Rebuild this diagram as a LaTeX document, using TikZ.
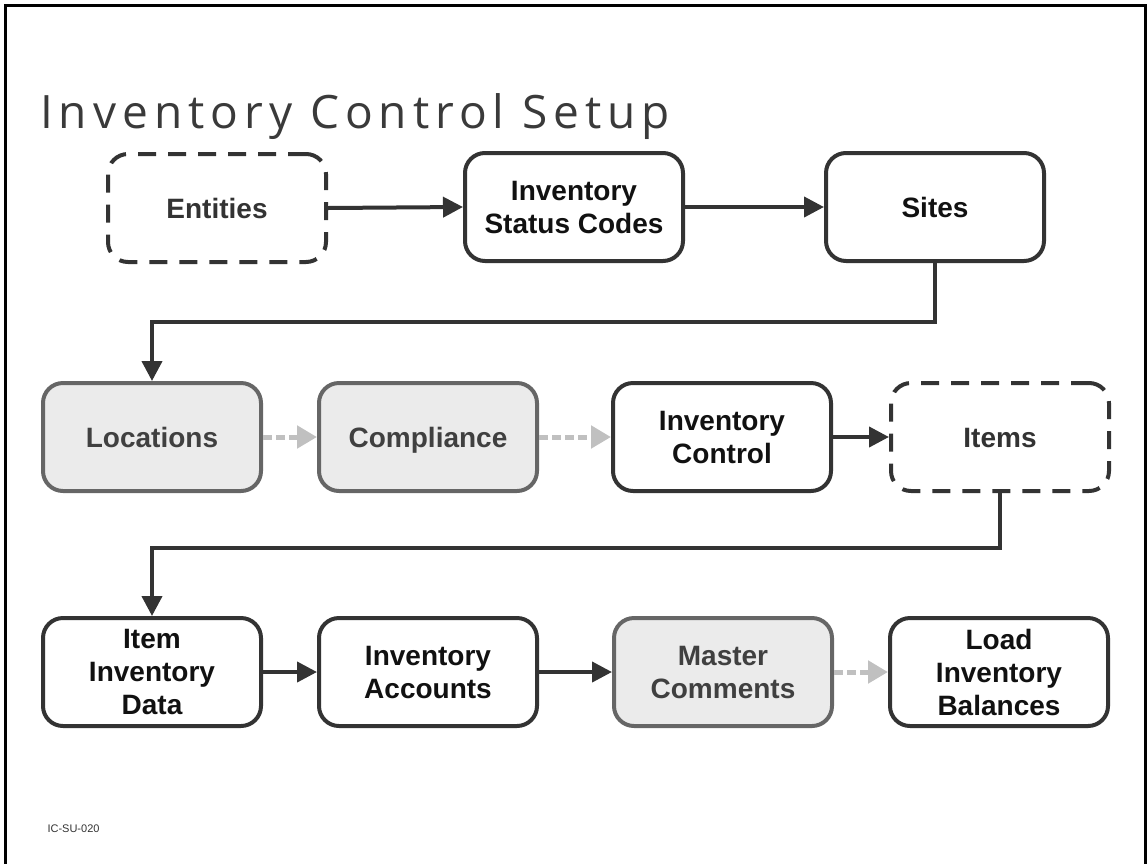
\documentclass[tikz,border=0pt]{standalone}
\usepackage{fontspec}
\setmainfont{Liberation Sans}
\newfontfamily\titlefont[LetterSpace=13]{Open Sans}
\usetikzlibrary{arrows.meta}
\definecolor{ink}{HTML}{333333}
\definecolor{titleink}{HTML}{3A3A3A}
\definecolor{boxtext}{HTML}{111111}
\definecolor{grayfill}{HTML}{EBEBEB}
\definecolor{grayline}{HTML}{666666}
\definecolor{graytext}{HTML}{404040}
\definecolor{dotline}{HTML}{C0C0C0}
\tikzset{
  box/.style={draw=ink, line width=4pt, rounded corners=20pt, minimum width=218pt, minimum height=108pt,
    align=center, text=boxtext, font=\fontsize{28}{33}\selectfont\bfseries, inner sep=0pt},
  dashbox/.style={box, text=ink, dash pattern=on 18pt off 12pt},
  graybox/.style={box, draw=grayline, fill=grayfill, text=graytext},
  single/.style={text height=20pt, text depth=0pt},
  solidarrow/.style={draw=ink, line width=4pt, -{Triangle[length=20pt,width=20pt]}},
  dotarrow/.style={draw=dotline, line width=5pt, dash pattern=on 9pt off 4pt, -{Triangle[length=20pt,width=22pt]}},
  link/.style={draw=ink, line width=4pt, -{Triangle[length=20pt,width=20pt]}}
}
\begin{document}
\begin{tikzpicture}[x=1pt,y=-1pt]
\useasboundingbox (0,0) rectangle (1148,863);
\draw[line width=3pt, black] (5,880) -- (5,5) -- (1145,5) -- (1145,880);
\node[anchor=base west, text=titleink, font=\titlefont\fontsize{46}{50}\selectfont, inner sep=0pt] (title) at (40,128) {Inventory Control Setup};
% row 1
\node[dashbox, single] (ent) at (217,208) {Entities};
\node[box] (isc) at (574,207) {Inventory\\Status Codes};
\node[box, single] (sites) at (935,207) {Sites};
% row 2
\node[graybox, single] (loc) at (152,437) {Locations};
\node[graybox, single] (comp) at (428,437) {Compliance};
\node[box] (ic) at (722,437) {Inventory\\Control};
\node[dashbox, single] (items) at (1000,437) {Items};
% row 3
\node[box] (iid) at (152,672) {Item\\Inventory\\Data};
\node[box] (ia) at (428,672) {Inventory\\Accounts};
\node[graybox] (mc) at (723,672) {Master\\Comments};
\node[box] (lib) at (999,672) {Load\\Inventory\\Balances};
% connectors
\draw[solidarrow] (ent.east) -- (isc.west);
\draw[solidarrow] (isc.east) -- (sites.west);
\coordinate (k1) at (935,322);
\draw[link] (sites.south) -- (k1) -| (loc.north);
\draw[dotarrow] (loc.east) -- (comp.west);
\draw[dotarrow] (comp.east) -- (ic.west);
\draw[solidarrow] (ic.east) -- (items.west);
\coordinate (k2) at (1000,548);
\draw[link] (items.south) -- (k2) -| (iid.north);
\draw[solidarrow] (iid.east) -- (ia.west);
\draw[solidarrow] (ia.east) -- (mc.west);
\draw[dotarrow] (mc.east) -- (lib.west);
\node[anchor=base west, font=\fontsize{11}{13}\selectfont, text=ink] (code) at (44,832) {IC-SU-020};
\end{tikzpicture}
\end{document}
